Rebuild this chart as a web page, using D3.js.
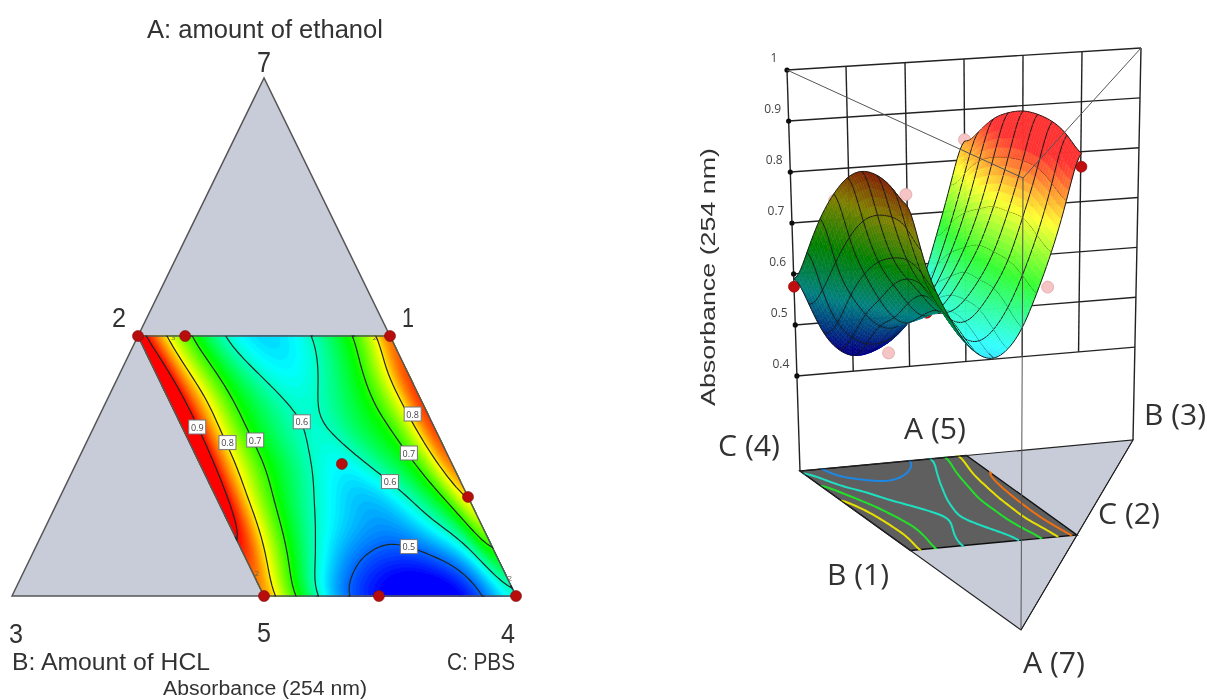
<!DOCTYPE html>
<html><head><meta charset="utf-8">
<script src="https://cdn.jsdelivr.net/npm/d3@7"></script>
<style>html,body{margin:0;background:#fff}svg{display:block}text{font-family:"Open Sans",sans-serif}.ls{font-family:"Liberation Sans",sans-serif}</style>
</head><body><svg id="c" width="1207" height="700"></svg>
<script>
// Response values: rows run from the A = low edge (first) to the A = high edge (last),
// columns from the B-rich side to the C-rich side.
const row0 = [.85,.74,.645,.55,.49,.46,.44,.425,.42,.435,.47,.53,.585];
const row1 = [.89,.79,.695,.615,.55,.505,.48,.47,.47,.485,.51,.575,.68];
const row2 = [.93,.83,.73,.655,.598,.56,.535,.52,.525,.55,.59,.645,.765];
const row3 = [.955,.85,.75,.68,.625,.585,.555,.54,.55,.59,.645,.71,.825];
const row4 = [.975,.86,.775,.70,.655,.61,.58,.57,.60,.64,.68,.76,.87];
const row5 = [.98,.87,.775,.70,.65,.615,.596,.60,.635,.665,.70,.785,.895];
const row6 = [.98,.87,.785,.70,.655,.615,.592,.598,.63,.67,.715,.795,.90];
const row7 = [.97,.855,.76,.69,.63,.59,.57,.575,.605,.65,.705,.795,.89];
const row8 = [.94,.83,.74,.665,.60,.565,.55,.56,.585,.63,.68,.75,.87];
const responseRows = [row0,row1,row2,row3,row4,row5,row6,row7,row8];
const contourLevels = [.5,.6,.7,.8,.9];
const designU = [0,.187,1,1,.563,0,.456,1];
const designV = [1,1,1,.381,.508,0,0,0];
const designZ = [.90,.68,.87,.79,.58,.84,.43,.575];
const designRed3d = [true,false,false,false,true,false,false,true];
const labelU = [.06,.15,.265,.485,.94,.85,.72,.67];
const labelV = [.65,.59,.60,.67,.70,.55,.44,.19];
const labelText = ["0.9","0.8","0.7","0.6","0.8","0.7","0.6","0.5"];
const zTicks = [.4,.5,.6,.7,.8,.9,1];
const wallDivisions = [1,2,3,4,5];

const svg = d3.select("#c");
const defs = svg.append("defs");
defs.append("filter").attr("id","soft").attr("x","-5%").attr("y","-5%").attr("width","110%").attr("height","110%")
  .append("feGaussianBlur").attr("stdDeviation",.55);

// upsample the read grid for rendering
const F = 6;
function cr(p0,p1,p2,p3,t){return .5*((2*p1)+(-p0+p2)*t+(2*p0-5*p1+4*p2-p3)*t*t+(-p0+3*p1-3*p2+p3)*t*t*t);}
function sample(fu,fv){
  const R=responseRows, nr=R.length, nc=R[0].length;
  const j=Math.min(Math.floor(fv),nr-2), i=Math.min(Math.floor(fu),nc-2);
  const tv=fv-j, tu=fu-i, col=[];
  for(let r=j-1;r<=j+2;r++){const q=R[Math.max(0,Math.min(nr-1,r))];
    col.push(cr(q[Math.max(0,i-1)],q[i],q[i+1],q[Math.min(nc-1,i+2)],tu));}
  return cr(col[0],col[1],col[2],col[3],tv);
}
const nc=(responseRows[0].length-1)*F+1, nr=(responseRows.length-1)*F+1;
const fine=new Array(nc*nr);
for(let j=0;j<nr;j++)for(let i=0;i<nc;i++)fine[j*nc+i]=sample(i/F,j/F);
d3.blur2({data:fine,width:nc,height:nr},2);

const color=d3.scaleLinear().domain([.45,.57,.68,.79,.90]).range(["#0000ff","#00ffff","#00ff00","#ffff00","#ff0000"]).clamp(true);

// --- left: ternary contour plot
const vY=d3.scaleLinear().domain([0,1]).range([596,336]);
const uW=d3.scaleLinear().domain([0,1]).range([0,252]);
const vS=d3.scaleLinear().domain([0,1]).range([264,138]);
const px=(u,v)=>[vS(v)+uW(u),vY(v)];
const gridU=d3.scaleLinear().domain([.5,nc-.5]).range([0,1]).clamp(true);
const gridV=d3.scaleLinear().domain([.5,nr-.5]).range([0,1]).clamp(true);
const line=d3.line();

const L=svg.append("g").attr("filter","url(#soft)");
const triFill="#c8ccd8", edge="#555";
const top3=[[264,78],px(0,1),px(1,1)], left3=[[12,596],px(0,1),px(0,0)];
[top3,left3].forEach(t=>L.append("path").attr("d",line(t)+"Z").attr("fill",triFill).attr("stroke",edge).attr("stroke-width",1.5));

const contourGen=d3.contours().size([nc,nr]);
const band=d3.range(.38,1.0,.006);
const path=(rings,proj)=>rings.map(r=>line(r.map(p=>proj(gridU(p[0]),gridV(p[1]))))+"Z").join("");
L.append("path").attr("d",line([px(0,0),px(1,0),px(1,1),px(0,1)])+"Z").attr("fill",color(.38));
contourGen.thresholds(band)(fine).forEach(c=>{
  L.append("path").attr("d",c.coordinates.map(poly=>path(poly,px)).join("")).attr("fill",color(c.value)).attr("stroke",color(c.value)).attr("stroke-width",.3);
});
L.append("path").attr("d",line([px(0,0),px(1,0),px(1,1),px(0,1)])+"Z").attr("fill","none").attr("stroke",edge).attr("stroke-width",1.5);

// open contour lines: drop the parts that run along the domain border
function openLines(c){
  const out=[];
  c.coordinates.forEach(poly=>poly.forEach(r=>{
    let cur=[];
    const onB=p=>p[0]<=0||p[0]>=nc||p[1]<=0||p[1]>=nr;
    for(let k=1;k<r.length;k++){
      if(onB(r[k-1])&&onB(r[k])){if(cur.length>1)out.push(cur);cur=[];continue;}
      if(!cur.length)cur.push(r[k-1]);
      cur.push(r[k]);
    }
    if(cur.length>1)out.push(cur);
  }));
  return out;
}
const levelLines=contourGen.thresholds(contourLevels)(fine);
levelLines.forEach(c=>{
  if(c.value>=.9){
    // the upper level only closes off the B-rich strip on this plot
    c.coordinates=c.coordinates.map(poly=>poly.filter(r=>d3.mean(r,p=>p[0])<nc/2)).filter(p=>p.length);
  }
  openLines(c).forEach(s=>L.append("path").attr("fill","none").attr("stroke","#1f2a25").attr("stroke-width",1.2)
    .attr("d",line(s.map(p=>px(gridU(p[0]),gridV(p[1]))))));
});
labelText.forEach((t,i)=>{
  const p=px(labelU[i],labelV[i]);
  L.append("rect").attr("x",p[0]-8.5).attr("y",p[1]-7).attr("width",17).attr("height",14).attr("fill","#fff").attr("stroke","#777");
  L.append("text").attr("x",p[0]).attr("y",p[1]+3.5).attr("text-anchor","middle").attr("font-size",9).attr("fill","#444").text(t);
});
designU.forEach((u,i)=>{const p=px(u,designV[i]);
  L.append("circle").attr("cx",p[0]).attr("cy",p[1]).attr("r",5.5).attr("fill","#b80f0f").attr("stroke","#7a0c0c").attr("stroke-width",.6);});
[["3",.14,1],["2",.94,1],["2",0,.05],["2",.99,.03]].forEach(d=>{const p=px(d[1],d[2]);
  L.append("text").attr("x",p[0]+(d[2]<.1&&d[1]<.5?-1:0)).attr("y",p[1]+(d[2]<.1?-7:4)).attr("text-anchor","middle").attr("font-size",8).attr("fill","#665").text(d[0]);});

const T=(g,x,y,s,size,anchor,w,fill)=>{const e=g.append("text").attr("x",x).attr("y",y).attr("font-size",size).attr("text-anchor",anchor||"middle").attr("fill",fill||"#333").text(s);
  if(w)e.attr("textLength",w).attr("lengthAdjust","spacingAndGlyphs");return e;};
const LT=svg.append("g").attr("filter","url(#soft)").attr("id","labels");
T(LT,265,38,"A: amount of ethanol",25,"middle",236).attr("class","ls");
T(LT,264,72,"7",30,"middle",14).attr("class","ls");
T(LT,119,327,"2",27,"middle",14).attr("class","ls");
T(LT,408,327,"1",27,"middle",12).attr("class","ls");
T(LT,16,643,"3",27,"middle",14).attr("class","ls");
T(LT,264,642,"5",27,"middle",14).attr("class","ls");
T(LT,508,643,"4",27,"middle",14).attr("class","ls");
T(LT,12,670,"B: Amount of HCL",24,"start",198).attr("class","ls");
T(LT,447,670,"C: PBS",24,"start",68).attr("class","ls");
T(LT,265,695,"Absorbance (254 nm)",20,"middle",204).attr("class","ls");

// --- right: 3D response surface
const baseA=[1021,630],baseB=[1133,440],baseC=[800,471];
const topA=[1023,178],topB=[1141,48],topC=[787,70];
const zFrac=d3.scaleLinear().domain([.2136,1]).range([0,1]);
function bary(P,Q,R,a,b,c){return [a*P[0]+b*Q[0]+c*R[0],a*P[1]+b*Q[1]+c*R[1]];}
function abc(u,v){return [v/2,(1-u)/2,(1+u-v)/2];}
function proj(u,v,z){const [a,b,c]=abc(u,v),B=bary(baseA,baseB,baseC,a,b,c),H=bary(topA,topB,topC,a,b,c),t=zFrac(z);
  return [B[0]+(H[0]-B[0])*t,B[1]+(H[1]-B[1])*t];}
function floorPt(u,v){return proj(u,v,.2136);}
const wallPt=(s,z)=>{const t=zFrac(z),b=[baseC[0]+(baseB[0]-baseC[0])*s,baseC[1]+(baseB[1]-baseC[1])*s],h=[topC[0]+(topB[0]-topC[0])*s,topC[1]+(topB[1]-topC[1])*s];
  return [b[0]+(h[0]-b[0])*t,b[1]+(h[1]-b[1])*t];};

const R=svg.append("g").attr("filter","url(#soft)");
R.append("path").attr("d",line([baseA,baseB,baseC])+"Z").attr("fill",triFill).attr("stroke","none");
R.append("path").attr("d",line([floorPt(0,0),floorPt(1,0),floorPt(1,1),floorPt(0,1)])+"Z").attr("fill","#5f5f5f").attr("stroke","#111").attr("stroke-width",1.4);
const floorColor={.5:"#1e88e5",.6:"#1fe0c0",.7:"#22e02a",.8:"#e6e000",.9:"#f07010"};
contourGen.thresholds(contourLevels)(fine).forEach(c=>{
  openLines(c).forEach(s=>R.append("path").attr("fill","none").attr("stroke",floorColor[c.value]).attr("stroke-width",2)
    .attr("d",line(s.map(p=>floorPt(gridU(p[0]),gridV(p[1]))))));
});
R.append("path").attr("d",line([baseC,baseB,baseA])+"Z").attr("fill","none").attr("stroke","#222").attr("stroke-width",1.1);
const wall=R.append("g").attr("stroke","#222").attr("stroke-width",1.4).attr("fill","none");
zTicks.forEach(z=>wall.append("path").attr("d",line([wallPt(0,z),wallPt(1,z)])));
wallDivisions.forEach(k=>wall.append("path").attr("d",line([wallPt(k/6,.4),wallPt(k/6,1)])));
wall.append("path").attr("d",line([wallPt(0,.2136),wallPt(0,1)]));
wall.append("path").attr("d",line([wallPt(1,.2136),wallPt(1,1)]));
zTicks.forEach(z=>{const p=wallPt(0,z);
  R.append("circle").attr("cx",p[0]).attr("cy",p[1]).attr("r",2.6).attr("fill","#111");
  T(R,p[0]-(z===1?13:16),p[1]-8,z===1?"1":String(z),12,"middle",null,"#444");});
// design points behind surface
designU.forEach((u,i)=>{const p=proj(u,designV[i],designZ[i]);
  R.append("circle").attr("cx",p[0]).attr("cy",p[1]).attr("r",designRed3d[i]?5.5:6).attr("fill",designRed3d[i]?"#c00d0d":"#f6c4c4").attr("stroke",designRed3d[i]?"#900":"#d9a0a0").attr("stroke-width",.7);});
// surface quads, painter order
const quads=[];
const sv=(i,j)=>fine[j*nc+i];
for(let j=0;j<nr-1;j++)for(let i=0;i<nc-1;i++){
  const uu=[i/(nc-1),(i+1)/(nc-1)],vv=[j/(nr-1),(j+1)/(nr-1)];
  const zs=[sv(i,j),sv(i+1,j),sv(i+1,j+1),sv(i,j+1)];
  const pts=[proj(uu[0],vv[0],zs[0]),proj(uu[1],vv[0],zs[1]),proj(uu[1],vv[1],zs[2]),proj(uu[0],vv[1],zs[3])];
  const zm=d3.mean(zs);
  const area=d3.polygonArea(pts);
  const fb=floorPt((uu[0]+uu[1])/2,(vv[0]+vv[1])/2);
  quads.push({i,j,pts,zm,area,depth:fb[1]+zm*300});
}
quads.sort((a,b)=>a.depth-b.depth);
const S=R.append("g");
const dark=c=>{const q=d3.rgb(c);return d3.rgb(q.r*.5,q.g*.5,q.b*.5).formatHex();};
const light=c=>d3.interpolateRgb(c,"#ffffff")(.2);
quads.forEach(q=>{
  const col=q.area<0?dark(color(q.zm)):light(color(q.zm));
  S.append("path").attr("d",line(q.pts)+"Z").attr("fill",col).attr("stroke",col).attr("stroke-width",.5);
  const seg=[];
  if(q.i%F===0)seg.push([q.pts[0],q.pts[3]]);
  if(q.i===nc-2)seg.push([q.pts[1],q.pts[2]]);
  if(q.j%F===0)seg.push([q.pts[0],q.pts[1]]);
  if(q.j===nr-2)seg.push([q.pts[3],q.pts[2]]);
  seg.forEach(s=>S.append("path").attr("d",line(s)).attr("fill","none").attr("stroke","#1a1a1a").attr("stroke-width",1));
});
// frame lines over surface
const over=R.append("g").attr("stroke","#555").attr("stroke-width",1).attr("fill","none");
over.append("path").attr("d",line([topC,topA,topB]));
over.append("path").attr("d",line([topA,baseA]));
R.append("path").attr("d",line([baseA,baseB])).attr("stroke","#222").attr("fill","none");
const RT=svg.append("g").attr("filter","url(#soft)");
T(RT,749,456,"C (4)",30,"middle",62);
T(RT,935,439,"A (5)",30,"middle",62);
T(RT,1175,425,"B (3)",30,"middle",62);
T(RT,1129,524,"C (2)",30,"middle",62);
T(RT,858,585,"B (1)",30,"middle",62);
T(RT,1054,673,"A (7)",30,"middle",62);
T(RT,0,0,"Absorbance (254 nm)",20,"middle",258).attr("transform","translate(715,277) rotate(-90)").attr("class","ls");
</script></body></html>
